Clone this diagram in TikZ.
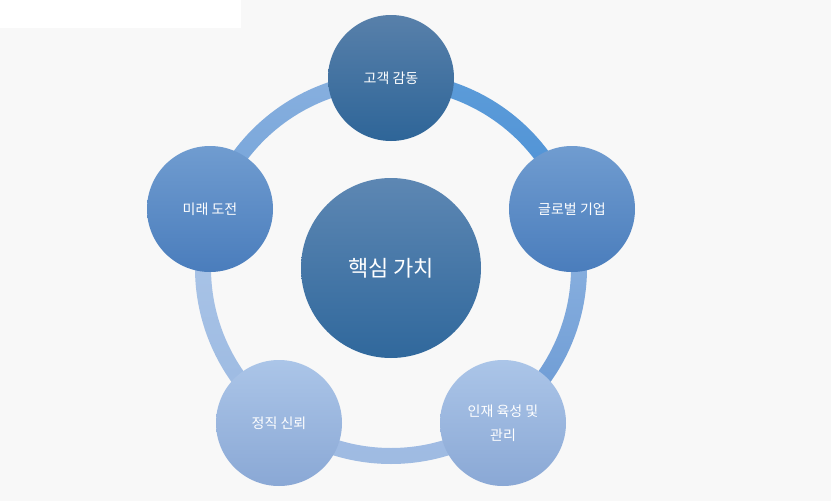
\documentclass[tikz,border=0pt]{standalone}
\usepackage{fontspec}
\usepackage{tikz}
\usetikzlibrary{positioning}
\newfontfamily\kofont{Noto Sans CJK KR}
\definecolor{bgray}{HTML}{F8F8F8}
\tikzset{bubble/.style = {circle, inner sep = 0, minimum size = 126pt, text = white,
    font = \kofont\fontsize{14}{24}\selectfont, align = center}}
\tikzset{dark/.style = {bubble, top color = {rgb,255:red,88;green,128;blue,170}, bottom color = {rgb,255:red,46;green,101;blue,152}}}
\tikzset{mid/.style = {bubble, top color = {rgb,255:red,112;green,156;blue,208}, bottom color = {rgb,255:red,74;green,125;blue,188}}}
\tikzset{pale/.style = {bubble, top color = {rgb,255:red,171;green,197;blue,232}, bottom color = {rgb,255:red,138;green,168;blue,213}}}

\begin{document}
\begin{tikzpicture}[x = 1pt, y = -1pt]
    \fill [bgray] (0, 0) rectangle (831, 501);
    \fill [white] (0, 0) rectangle (241, 28);
    \useasboundingbox (0, 0) rectangle (831, 501);

    \coordinate (hub) at (391, 268);
    % ring, one shaded band per gap
    \shade [top color = {rgb,255:red,92;green,156;blue,217}, bottom color = {rgb,255:red,72;green,140;blue,212}]
        (hub) ++(90:196pt) arc [start angle = 90, end angle = 18, radius = 196pt]
        -- ++(18:-16pt) arc [start angle = 18, end angle = 90, radius = 180pt] -- cycle;
    \shade [top color = {rgb,255:red,146;green,182;blue,226}, bottom color = {rgb,255:red,104;green,152;blue,211}]
        (hub) ++(18:196pt) arc [start angle = 18, end angle = -54, radius = 196pt]
        -- ++(-54:-16pt) arc [start angle = -54, end angle = 18, radius = 180pt] -- cycle;
    \shade [top color = {rgb,255:red,168;green,195;blue,230}, bottom color = {rgb,255:red,158;green,186;blue,226}]
        (hub) ++(-54:196pt) arc [start angle = -54, end angle = -126, radius = 196pt]
        -- ++(-126:-16pt) arc [start angle = -126, end angle = -54, radius = 180pt] -- cycle;
    \shade [top color = {rgb,255:red,172;green,198;blue,232}, bottom color = {rgb,255:red,155;green,185;blue,225}]
        (hub) ++(-126:196pt) arc [start angle = -126, end angle = -198, radius = 196pt]
        -- ++(-198:-16pt) arc [start angle = -198, end angle = -126, radius = 180pt] -- cycle;
    \shade [top color = {rgb,255:red,136;green,176;blue,223}, bottom color = {rgb,255:red,107;green,157;blue,214}]
        (hub) ++(162:196pt) arc [start angle = 162, end angle = 90, radius = 196pt]
        -- ++(90:-16pt) arc [start angle = 90, end angle = 162, radius = 180pt] -- cycle;

    \node [dark, minimum size = 180pt, font = \kofont\fontsize{22}{26}\selectfont,
        top color = {rgb,255:red,93;green,135;blue,179},
        bottom color = {rgb,255:red,48;green,104;blue,156}] (core) at (hub) {핵심 가치};

    \node [dark] (care) at (391, 78) {고객 감동};
    \node [mid] (global) at (572, 209) {글로벌 기업};
    \node [pale] (talent) at (503, 423) {인재 육성 및\\관리};
    \node [pale] (trust) at (279, 423) {정직 신뢰};
    \node [mid] (future) at (210, 209) {미래 도전};
  \end{tikzpicture}
\end{document}
